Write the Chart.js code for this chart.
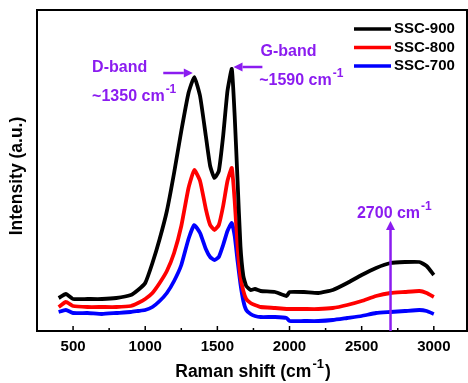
<!DOCTYPE html>
<html>
<head>
<meta charset="utf-8">
<script src="https://cdn.jsdelivr.net/npm/chart.js@4/dist/chart.umd.min.js"></script>
<style>
  html, body { margin: 0; padding: 0; background: #fff; }
  #wrap { width: 468px; height: 383px; }
</style>
</head>
<body>
<div id="wrap"><canvas id="canvas1"></canvas></div>
<script>
var shifts = [400,450,500,600,700,800,900,950,1000,1050,1100,1150,1200,1250,1300,1340,1380,1420,1450,1480,1510,1540,1570,1600,1620,1640,1660,1680,1700,1730,1760,1800,1900,1980,2000,2100,2200,2300,2400,2500,2600,2700,2800,2900,2950,3000];
var ssc900 = [33,37,32,32,32,33,36,41,48,68,92,120,158,200,238,254,235,195,165,153,160,195,240,262,215,150,85,55,45,41,42,40,39,35,39,39,38,41,48,56,63,68,69,69,65,56];
var ssc800 = [24,29,25,24,24,24,25,28,32,38,48,60,78,105,143,161,150,122,106,101,106,125,150,163,130,85,54,40,32,28,26,24,23,22,22,22,22,23,26,30,35,38,39,40,38,34];
var ssc700 = [19,21,18,18,17,18,19,20,21,24,30,38,50,66,92,106,98,82,74,71,74,86,100,108,95,70,47,30,21,17,15,14,14,13,10,10,10,11,13,15,18,19,20,21,20,17];
var seriesNames = ['SSC-900', 'SSC-800', 'SSC-700'];
var seriesColors = ['#000000', '#ff0000', '#0000ff'];
var tickValues = [500, 1000, 1500, 2000, 2500, 3000];
var minorValues = [750, 1250, 1750, 2250, 2750];

var purple = '#8b1cf0';
var fam = '"Liberation Sans", Arial, sans-serif';

function toPoints(ys) {
    return shifts.map(function (x, i) { return {x: x, y: ys[i]}; });
}

function arrow(ctx, x1, y1, x2, y2) {
    var ang = Math.atan2(y2 - y1, x2 - x1);
    var hl = 9, hw = 4.5;
    var bx = x2 - hl * Math.cos(ang), by = y2 - hl * Math.sin(ang);
    ctx.strokeStyle = purple;
    ctx.fillStyle = purple;
    ctx.lineWidth = 2.5;
    ctx.beginPath();
    ctx.moveTo(x1, y1);
    ctx.lineTo(bx, by);
    ctx.stroke();
    ctx.beginPath();
    ctx.moveTo(x2, y2);
    ctx.lineTo(bx - hw * Math.sin(ang), by + hw * Math.cos(ang));
    ctx.lineTo(bx + hw * Math.sin(ang), by - hw * Math.cos(ang));
    ctx.closePath();
    ctx.fill();
}

// text followed by a raised "-1" (and optional tail)
function textSup(ctx, base, sup, tail, x, y, size, align) {
    var supSize = Math.round(size * 0.75);
    ctx.font = 'bold ' + size + 'px ' + fam;
    var w1 = ctx.measureText(base).width;
    var w3 = tail ? ctx.measureText(tail).width : 0;
    ctx.font = 'bold ' + supSize + 'px ' + fam;
    var w2 = ctx.measureText(sup).width;
    var total = w1 + w2 + w3 + 2;
    var left = align === 'center' ? x - total / 2 : x;
    ctx.textAlign = 'left';
    ctx.textBaseline = 'middle';
    ctx.font = 'bold ' + size + 'px ' + fam;
    ctx.fillText(base, left, y);
    if (tail) ctx.fillText(tail, left + w1 + w2 + 2, y);
    ctx.font = 'bold ' + supSize + 'px ' + fam;
    ctx.fillText(sup, left + w1 + 1, y - size * 0.45);
}

var decor = {
    id: 'decor',
    afterDraw: function (chart) {
        var ctx = chart.ctx;
        var a = chart.chartArea;
        var xs = chart.scales.x, ys = chart.scales.y;
        ctx.save();

        // frame
        ctx.strokeStyle = '#000';
        ctx.lineWidth = 2;
        ctx.strokeRect(a.left, a.top, a.right - a.left, a.bottom - a.top);

        // inward ticks
        ctx.lineWidth = 1.5;
        tickValues.forEach(function (v) {
            var px = xs.getPixelForValue(v);
            ctx.beginPath(); ctx.moveTo(px, a.bottom); ctx.lineTo(px, a.bottom - 5); ctx.stroke();
        });
        minorValues.forEach(function (v) {
            var px = xs.getPixelForValue(v);
            ctx.beginPath(); ctx.moveTo(px, a.bottom); ctx.lineTo(px, a.bottom - 3); ctx.stroke();
        });

        // axis titles
        ctx.fillStyle = '#000';
        textSup(ctx, 'Raman shift (cm', '-1', ')', 253, 372, 17.5, 'center');

        ctx.save();
        ctx.translate(17, 176);
        ctx.rotate(-Math.PI / 2);
        ctx.textAlign = 'center';
        ctx.textBaseline = 'middle';
        ctx.font = 'bold 17.5px ' + fam;
        ctx.fillText('Intensity (a.u.)', 0, 0);
        ctx.restore();

        // legend
        seriesNames.forEach(function (name, i) {
            var py = 29 + i * 18.5;
            ctx.strokeStyle = seriesColors[i];
            ctx.lineWidth = 3.5;
            ctx.beginPath(); ctx.moveTo(354, py); ctx.lineTo(391, py); ctx.stroke();
            ctx.fillStyle = '#000';
            ctx.font = 'bold 15px ' + fam;
            ctx.textAlign = 'left';
            ctx.textBaseline = 'middle';
            ctx.fillText(name, 394, py);
        });

        // annotations
        ctx.fillStyle = purple;
        ctx.font = 'bold 16px ' + fam;
        ctx.textAlign = 'left';
        ctx.textBaseline = 'middle';
        ctx.fillText('D-band', xs.getPixelForValue(632), ys.getPixelForValue(263));
        textSup(ctx, '~1350 cm', '-1', '', xs.getPixelForValue(632), ys.getPixelForValue(234), 16, 'left');
        arrow(ctx, xs.getPixelForValue(1125), ys.getPixelForValue(258), xs.getPixelForValue(1330), ys.getPixelForValue(258));

        ctx.fillStyle = purple;
        ctx.font = 'bold 16px ' + fam;
        ctx.fillText('G-band', xs.getPixelForValue(1799), ys.getPixelForValue(279));
        textSup(ctx, '~1590 cm', '-1', '', xs.getPixelForValue(1790), ys.getPixelForValue(250), 16, 'left');
        arrow(ctx, xs.getPixelForValue(1812), ys.getPixelForValue(264), xs.getPixelForValue(1612), ys.getPixelForValue(264));

        arrow(ctx, xs.getPixelForValue(2700), ys.getPixelForValue(0), xs.getPixelForValue(2700), ys.getPixelForValue(110));
        ctx.fillStyle = purple;
        textSup(ctx, '2700 cm', '-1', '', xs.getPixelForValue(2730), ys.getPixelForValue(117), 16, 'center');

        ctx.restore();
    }
};

var myChart1 = new Chart(document.getElementById('canvas1'), {
    type: 'line',
    data: {
        datasets: [ssc900, ssc800, ssc700].map(function (ys, i) {
            return {
                label: seriesNames[i],
                data: toPoints(ys),
                borderColor: seriesColors[i],
                borderWidth: 3.8,
                pointRadius: 0,
                tension: 0.15,
                fill: false
            };
        })
    },
    options: {
        responsive: true,
        maintainAspectRatio: false,
        animation: false,
        layout: { padding: { top: 10, right: 1, left: 0, bottom: 0 } },
        plugins: {
            legend: { display: false },
            tooltip: { enabled: false }
        },
        scales: {
            x: {
                type: 'linear',
                min: 250,
                max: 3230,
                grid: { display: false, drawTicks: false },
                border: { display: false },
                afterBuildTicks: function (s) {
                    s.ticks = tickValues.map(function (v) { return {value: v}; });
                },
                afterFit: function (s) { s.height = 52; },
                ticks: {
                    color: '#000',
                    padding: 7,
                    maxRotation: 0,
                    callback: function (v) { return String(v); },
                    font: { family: fam, size: 15, weight: 'bold' }
                }
            },
            y: {
                min: 0,
                max: 321,
                grid: { display: false, drawTicks: false },
                border: { display: false },
                ticks: { display: false },
                afterFit: function (s) { s.width = 37; }
            }
        }
    },
    plugins: [decor]
});
</script>
</body>
</html>
